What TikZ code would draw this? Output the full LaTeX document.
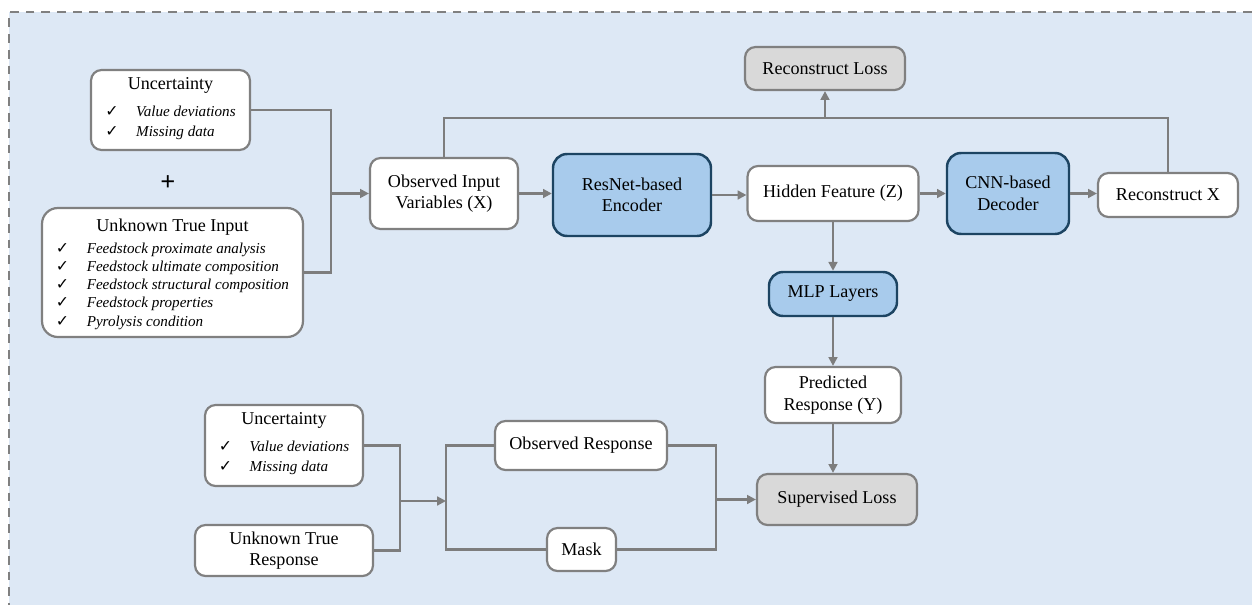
\documentclass[tikz,border=0pt]{standalone}
\usepackage{fontspec}
\setmainfont{Liberation Serif}
\newfontfamily\symfont{DejaVu Sans}
\usetikzlibrary{arrows.meta,positioning,calc}
\definecolor{panel}{RGB}{221,232,245}
\definecolor{edge}{RGB}{128,128,128}
\definecolor{wire}{RGB}{125,125,125}
\definecolor{netblue}{RGB}{168,203,236}
\definecolor{netline}{RGB}{28,68,98}
\definecolor{lossgray}{RGB}{217,217,217}
\newcommand{\ck}{{\symfont\fontsize{9}{9}\selectfont ✓}}
\newcommand{\cklist}[2][10.4]{{\fontsize{8.6}{#1}\selectfont\begin{tabular}{@{}l@{\hspace{10pt}}l@{}}#2\end{tabular}}}

\begin{document}
\begin{tikzpicture}[x=0.02cm, y=-0.02cm,
  every node/.style={font=\fontsize{10.3}{12.3}\selectfont},
  card/.style={draw=edge, line width=1.25pt, rounded corners=6pt, fill=white, align=center, inner sep=2pt},
  net/.style={card, draw=netline, line width=1.4pt, fill=netblue, rounded corners=8pt},
  loss/.style={card, fill=lossgray},
  link/.style={draw=wire, line width=1.2pt},
  arr/.style={link, -{Triangle[length=5pt,width=5pt]}}
]
\useasboundingbox (0,0) rectangle (1252,605);
\fill[panel] (9,12) rectangle (1252,605);
\draw[edge, line width=1.2pt, dash pattern=on 5pt off 4pt] (1252,12) -- (9,12) -- (9,605);

\node[card, minimum width=3.18cm, minimum height=1.6cm] (unc1) at (170.5,110)
  {Uncertainty\\[4pt]\cklist[11.4]{\ck & \textit{Value deviations}\\ \ck & \textit{Missing data}}\\[-3pt]};
\node[font=\bfseries\fontsize{15}{15}\selectfont] (plus) at (168,183) {+};
\node[card, minimum width=5.22cm, minimum height=2.58cm, rounded corners=9pt] (unkin) at (172.5,272.5)
  {Unknown True Input\\[2pt]\cklist{\ck & \textit{Feedstock proximate analysis}\\
   \ck & \textit{Feedstock ultimate composition}\\
   \ck & \textit{Feedstock structural composition}\\
   \ck & \textit{Feedstock properties}\\
   \ck & \textit{Pyrolysis condition}}\\[-4pt]};

\node[card, minimum width=2.96cm, minimum height=1.42cm] (obsin) at (444,193.5) {Observed Input\\Variables (X)};
\node[net, minimum width=3.16cm, minimum height=1.64cm] (enc) at (632,195) {ResNet-based\\Encoder};
\node[card, minimum width=3.42cm, minimum height=1.1cm] (hid) at (833,193.5) {Hidden Feature (Z)};
\node[net, minimum width=2.44cm, minimum height=1.62cm] (dec) at (1008,193.5) {CNN-based\\Decoder};
\node[card, minimum width=2.8cm, minimum height=0.88cm] (recx) at (1168,195) {Reconstruct X};
\node[loss, minimum width=3.2cm, minimum height=0.86cm] (recloss) at (825,68.5) {Reconstruct Loss};
\node[net, minimum width=2.56cm, minimum height=0.88cm] (mlp) at (833,294) {MLP Layers};
\node[card, minimum width=2.72cm, minimum height=1.12cm] (pred) at (833,395) {Predicted\\Response (Y)};
\node[loss, minimum width=3.2cm, minimum height=1.02cm] (suploss) at (837,499.5) {Supervised Loss};

\node[card, minimum width=3.16cm, minimum height=1.62cm] (unc2) at (284,445.5)
  {Uncertainty\\[4pt]\cklist[11.4]{\ck & \textit{Value deviations}\\ \ck & \textit{Missing data}}\\[-3pt]};
\node[card, minimum width=3.56cm, minimum height=1.02cm] (unkresp) at (284,550.5) {Unknown True\\Response};
\node[card, minimum width=3.44cm, minimum height=0.98cm] (obsresp) at (581,445.5) {Observed Response};
\node[card, minimum width=1.38cm, minimum height=0.86cm] (mask) at (581.5,549.5) {Mask};

\coordinate (jin) at (331,193.5);
\coordinate (bus) at (0,118);
\coordinate (jresp) at (400,501);
\coordinate (jsplit) at (446,501);
\coordinate (jsup) at (716,499.5);

\draw[link] (unc1.east) -| (jin) |- (unkin.east);
\draw[arr] (jin) -- (obsin.west);
\foreach \a/\b in {obsin/enc, enc/hid, hid/dec, dec/recx}
  \draw[arr] (\a.east) -- (\a.east -| \b.west);
\draw[link] (obsin.north) |- (recx.north |- bus) -- (recx.north);
\draw[arr] (recloss.south |- bus) -- (recloss.south);
\draw[arr] (hid) -- (mlp);
\draw[arr] (mlp) -- (pred);
\draw[arr] (pred.south) -- (pred.south |- suploss.north);

\draw[link] (unc2.east) -| (jresp) |- (unkresp.east);
\draw[arr] (jresp) -- (jsplit);
\draw[link] (obsresp.west) -| (jsplit) |- (mask.west);
\draw[link] (obsresp.east) -| (jsup) |- (mask.east);
\draw[arr] (jsup) -- (suploss.west);
\end{tikzpicture}
\end{document}
